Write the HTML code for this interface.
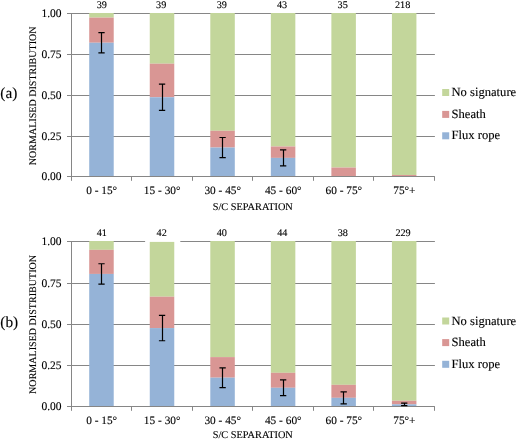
<!DOCTYPE html>
<html><head><meta charset="utf-8"><title>chart</title>
<style>html,body{margin:0;padding:0;background:#fff;}svg{display:block;will-change:transform;}svg text{text-rendering:geometricPrecision;stroke:#000;stroke-width:0.12px;}</style>
</head><body>
<svg width="517" height="440" viewBox="0 0 517 440" font-family="'Liberation Serif', serif" fill="#000">
<rect width="517" height="440" fill="#fff"/>
<line x1="71.5" y1="136.5" x2="434.9" y2="136.5" stroke="#868686" stroke-width="1"/>
<line x1="71.5" y1="95.5" x2="434.9" y2="95.5" stroke="#868686" stroke-width="1"/>
<line x1="71.5" y1="54.5" x2="434.9" y2="54.5" stroke="#868686" stroke-width="1"/>
<line x1="71.5" y1="13.5" x2="434.9" y2="13.5" stroke="#868686" stroke-width="1"/>
<rect x="89.22" y="13.00" width="24.5" height="4.59" fill="#C3D69B"/>
<rect x="89.22" y="17.59" width="24.5" height="25.15" fill="#D99694"/>
<rect x="89.22" y="42.75" width="24.5" height="133.75" fill="#95B3D7"/>
<rect x="149.76" y="13.00" width="24.5" height="50.71" fill="#C3D69B"/>
<rect x="149.76" y="63.71" width="24.5" height="33.54" fill="#D99694"/>
<rect x="149.76" y="97.25" width="24.5" height="79.25" fill="#95B3D7"/>
<rect x="210.30" y="13.00" width="24.5" height="117.78" fill="#C3D69B"/>
<rect x="210.30" y="130.78" width="24.5" height="16.77" fill="#D99694"/>
<rect x="210.30" y="147.55" width="24.5" height="28.95" fill="#95B3D7"/>
<rect x="270.84" y="13.00" width="24.5" height="133.48" fill="#C3D69B"/>
<rect x="270.84" y="146.48" width="24.5" height="11.41" fill="#D99694"/>
<rect x="270.84" y="157.89" width="24.5" height="18.61" fill="#95B3D7"/>
<rect x="331.38" y="13.00" width="24.5" height="154.56" fill="#C3D69B"/>
<rect x="331.38" y="167.56" width="24.5" height="8.94" fill="#D99694"/>
<rect x="391.92" y="13.00" width="24.5" height="161.95" fill="#C3D69B"/>
<rect x="391.92" y="174.95" width="24.5" height="1.55" fill="#D99694"/>
<line x1="71.5" y1="13.0" x2="71.5" y2="177.0" stroke="#868686" stroke-width="1"/>
<line x1="67.0" y1="176.5" x2="434.9" y2="176.5" stroke="#868686" stroke-width="1"/>
<line x1="67.0" y1="136.5" x2="71.5" y2="136.5" stroke="#868686" stroke-width="1"/>
<line x1="67.0" y1="95.5" x2="71.5" y2="95.5" stroke="#868686" stroke-width="1"/>
<line x1="67.0" y1="54.5" x2="71.5" y2="54.5" stroke="#868686" stroke-width="1"/>
<line x1="67.0" y1="13.5" x2="71.5" y2="13.5" stroke="#868686" stroke-width="1"/>
<line x1="71.50" y1="176.5" x2="71.50" y2="180.8" stroke="#868686" stroke-width="1"/>
<line x1="131.50" y1="176.5" x2="131.50" y2="180.8" stroke="#868686" stroke-width="1"/>
<line x1="192.50" y1="176.5" x2="192.50" y2="180.8" stroke="#868686" stroke-width="1"/>
<line x1="252.50" y1="176.5" x2="252.50" y2="180.8" stroke="#868686" stroke-width="1"/>
<line x1="313.50" y1="176.5" x2="313.50" y2="180.8" stroke="#868686" stroke-width="1"/>
<line x1="373.50" y1="176.5" x2="373.50" y2="180.8" stroke="#868686" stroke-width="1"/>
<line x1="434.50" y1="176.5" x2="434.50" y2="180.8" stroke="#868686" stroke-width="1"/>
<path d="M98.37 32.70H104.67M98.37 52.79H104.67M101.50 32.70V52.79" stroke="#000" stroke-width="1.2" fill="none"/>
<path d="M158.91 84.16H165.21M158.91 110.33H165.21M162.50 84.16V110.33" stroke="#000" stroke-width="1.2" fill="none"/>
<path d="M219.45 137.51H225.75M219.45 157.60H225.75M222.50 137.51V157.60" stroke="#000" stroke-width="1.2" fill="none"/>
<path d="M279.99 149.90H286.29M279.99 165.88H286.29M283.50 149.90V165.88" stroke="#000" stroke-width="1.2" fill="none"/>
<text x="101.77" y="7.5" font-size="10.2" text-anchor="middle">39</text>
<text x="161.21" y="7.5" font-size="10.2" text-anchor="middle">39</text>
<text x="221.75" y="7.5" font-size="10.2" text-anchor="middle">39</text>
<text x="282.09" y="7.5" font-size="10.2" text-anchor="middle">43</text>
<text x="342.63" y="7.5" font-size="10.2" text-anchor="middle">35</text>
<text x="402.62" y="7.5" font-size="10.2" text-anchor="middle">218</text>
<text x="61.6" y="179.85" font-size="11.5" text-anchor="end">0.00</text>
<text x="61.6" y="139.85" font-size="11.5" text-anchor="end">0.25</text>
<text x="61.6" y="98.85" font-size="11.5" text-anchor="end">0.50</text>
<text x="61.6" y="57.85" font-size="11.5" text-anchor="end">0.75</text>
<text x="61.6" y="16.85" font-size="11.5" text-anchor="end">1.00</text>
<text x="101.67" y="193.85" font-size="11.35" text-anchor="middle">0 - 15°</text>
<text x="162.21" y="193.85" font-size="11.35" text-anchor="middle">15 - 30°</text>
<text x="222.75" y="193.85" font-size="11.35" text-anchor="middle">30 - 45°</text>
<text x="283.29" y="193.85" font-size="11.35" text-anchor="middle">45 - 60°</text>
<text x="343.83" y="193.85" font-size="11.35" text-anchor="middle">60 - 75°</text>
<text x="404.37" y="193.85" font-size="11.35" text-anchor="middle">75°+</text>
<text x="252.8" y="209.5" font-size="10.3" text-anchor="middle">S/C SEPARATION</text>
<text transform="translate(35.9 95.85) rotate(-90)" font-size="10.07" text-anchor="middle">NORMALISED DISTRIBUTION</text>
<text x="0.3" y="98.2" font-size="15.3">(a)</text>
<rect x="442.2" y="89" width="7" height="7" fill="#C3D69B"/>
<text x="451.5" y="96" font-size="12.6">No signature</text>
<rect x="442.2" y="110.9" width="7" height="7" fill="#D99694"/>
<text x="451.5" y="117.7" font-size="12.6">Sheath</text>
<rect x="442.2" y="132.3" width="7" height="7" fill="#95B3D7"/>
<text x="451.5" y="139.2" font-size="12.6">Flux rope</text>
<line x1="71.5" y1="365.5" x2="434.9" y2="365.5" stroke="#868686" stroke-width="1"/>
<line x1="71.5" y1="324.5" x2="434.9" y2="324.5" stroke="#868686" stroke-width="1"/>
<line x1="71.5" y1="283.5" x2="434.9" y2="283.5" stroke="#868686" stroke-width="1"/>
<line x1="71.5" y1="241.5" x2="434.9" y2="241.5" stroke="#868686" stroke-width="1"/>
<rect x="145.11" y="229.5" width="35.2" height="12.6" fill="#fff"/>
<rect x="89.22" y="241.00" width="24.5" height="8.83" fill="#C3D69B"/>
<rect x="89.22" y="249.83" width="24.5" height="24.10" fill="#D99694"/>
<rect x="89.22" y="273.94" width="24.5" height="132.56" fill="#95B3D7"/>
<rect x="149.76" y="241.90" width="24.5" height="54.80" fill="#C3D69B"/>
<rect x="149.76" y="296.70" width="24.5" height="31.37" fill="#D99694"/>
<rect x="149.76" y="328.07" width="24.5" height="78.43" fill="#95B3D7"/>
<rect x="210.30" y="241.00" width="24.5" height="116.09" fill="#C3D69B"/>
<rect x="210.30" y="357.09" width="24.5" height="20.59" fill="#D99694"/>
<rect x="210.30" y="377.68" width="24.5" height="28.82" fill="#95B3D7"/>
<rect x="270.84" y="241.00" width="24.5" height="131.81" fill="#C3D69B"/>
<rect x="270.84" y="372.81" width="24.5" height="14.97" fill="#D99694"/>
<rect x="270.84" y="387.78" width="24.5" height="18.72" fill="#95B3D7"/>
<rect x="331.38" y="241.00" width="24.5" height="143.83" fill="#C3D69B"/>
<rect x="331.38" y="384.83" width="24.5" height="13.00" fill="#D99694"/>
<rect x="331.38" y="397.83" width="24.5" height="8.67" fill="#95B3D7"/>
<rect x="391.92" y="241.00" width="24.5" height="159.75" fill="#C3D69B"/>
<rect x="391.92" y="400.75" width="24.5" height="3.60" fill="#D99694"/>
<rect x="391.92" y="404.34" width="24.5" height="2.16" fill="#95B3D7"/>
<line x1="71.5" y1="241.0" x2="71.5" y2="407.0" stroke="#868686" stroke-width="1"/>
<line x1="67.0" y1="406.5" x2="434.9" y2="406.5" stroke="#868686" stroke-width="1"/>
<line x1="67.0" y1="365.5" x2="71.5" y2="365.5" stroke="#868686" stroke-width="1"/>
<line x1="67.0" y1="324.5" x2="71.5" y2="324.5" stroke="#868686" stroke-width="1"/>
<line x1="67.0" y1="283.5" x2="71.5" y2="283.5" stroke="#868686" stroke-width="1"/>
<line x1="67.0" y1="241.5" x2="71.5" y2="241.5" stroke="#868686" stroke-width="1"/>
<line x1="71.50" y1="406.5" x2="71.50" y2="410.8" stroke="#868686" stroke-width="1"/>
<line x1="131.50" y1="406.5" x2="131.50" y2="410.8" stroke="#868686" stroke-width="1"/>
<line x1="192.50" y1="406.5" x2="192.50" y2="410.8" stroke="#868686" stroke-width="1"/>
<line x1="252.50" y1="406.5" x2="252.50" y2="410.8" stroke="#868686" stroke-width="1"/>
<line x1="313.50" y1="406.5" x2="313.50" y2="410.8" stroke="#868686" stroke-width="1"/>
<line x1="373.50" y1="406.5" x2="373.50" y2="410.8" stroke="#868686" stroke-width="1"/>
<line x1="434.50" y1="406.5" x2="434.50" y2="410.8" stroke="#868686" stroke-width="1"/>
<path d="M98.37 263.74H104.67M98.37 284.13H104.67M101.50 263.74V284.13" stroke="#000" stroke-width="1.2" fill="none"/>
<path d="M158.91 315.38H165.21M158.91 340.76H165.21M162.50 315.38V340.76" stroke="#000" stroke-width="1.2" fill="none"/>
<path d="M219.45 367.78H225.75M219.45 387.57H225.75M222.50 367.78V387.57" stroke="#000" stroke-width="1.2" fill="none"/>
<path d="M279.99 379.90H286.29M279.99 395.66H286.29M283.50 379.90V395.66" stroke="#000" stroke-width="1.2" fill="none"/>
<path d="M340.53 391.87H346.83M340.53 403.80H346.83M343.50 391.87V403.80" stroke="#000" stroke-width="1.2" fill="none"/>
<path d="M401.07 403.10H407.37M401.07 405.58H407.37M404.50 403.10V405.58" stroke="#000" stroke-width="1.2" fill="none"/>
<text x="101.87" y="236.1" font-size="10.2" text-anchor="middle">41</text>
<text x="161.71" y="236.1" font-size="10.2" text-anchor="middle">42</text>
<text x="221.75" y="236.1" font-size="10.2" text-anchor="middle">40</text>
<text x="282.29" y="236.1" font-size="10.2" text-anchor="middle">44</text>
<text x="342.83" y="236.1" font-size="10.2" text-anchor="middle">38</text>
<text x="403.07" y="236.1" font-size="10.2" text-anchor="middle">229</text>
<text x="61.6" y="409.85" font-size="11.5" text-anchor="end">0.00</text>
<text x="61.6" y="368.85" font-size="11.5" text-anchor="end">0.25</text>
<text x="61.6" y="327.85" font-size="11.5" text-anchor="end">0.50</text>
<text x="61.6" y="286.85" font-size="11.5" text-anchor="end">0.75</text>
<text x="61.6" y="244.85" font-size="11.5" text-anchor="end">1.00</text>
<text x="101.67" y="423.75" font-size="11.35" text-anchor="middle">0 - 15°</text>
<text x="162.21" y="423.75" font-size="11.35" text-anchor="middle">15 - 30°</text>
<text x="222.75" y="423.75" font-size="11.35" text-anchor="middle">30 - 45°</text>
<text x="283.29" y="423.75" font-size="11.35" text-anchor="middle">45 - 60°</text>
<text x="343.83" y="423.75" font-size="11.35" text-anchor="middle">60 - 75°</text>
<text x="404.37" y="423.75" font-size="11.35" text-anchor="middle">75°+</text>
<text x="252.8" y="438.1" font-size="10.3" text-anchor="middle">S/C SEPARATION</text>
<text transform="translate(35.9 324.45) rotate(-90)" font-size="10.07" text-anchor="middle">NORMALISED DISTRIBUTION</text>
<text x="0.3" y="327.3" font-size="15.3">(b)</text>
<rect x="442.2" y="317.5" width="7" height="7" fill="#C3D69B"/>
<text x="451.5" y="324.6" font-size="12.6">No signature</text>
<rect x="442.2" y="339.1" width="7" height="7" fill="#D99694"/>
<text x="451.5" y="346" font-size="12.6">Sheath</text>
<rect x="442.2" y="360.8" width="7" height="7" fill="#95B3D7"/>
<text x="451.5" y="367.8" font-size="12.6">Flux rope</text>
</svg>
</body></html>
